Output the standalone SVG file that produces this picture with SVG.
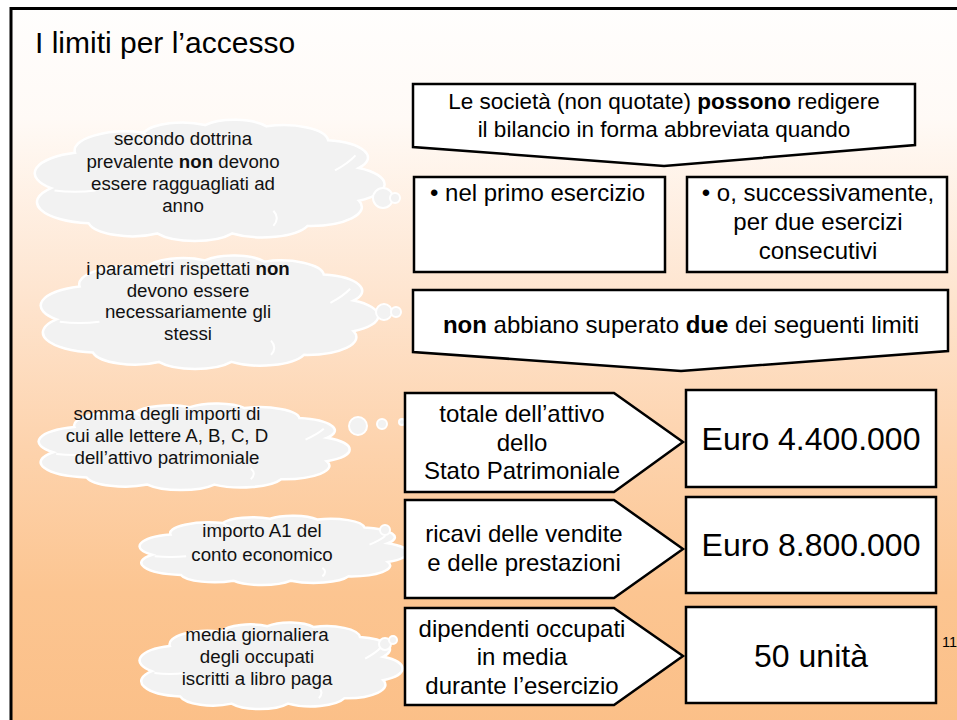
<svg xmlns="http://www.w3.org/2000/svg" width="957" height="720" viewBox="0 0 957 720">
<defs>
<linearGradient id="bg" x1="0" y1="0" x2="0" y2="1">
<stop offset="0" stop-color="#fffefd"/>
<stop offset="0.15" stop-color="#fffaf6"/>
<stop offset="0.4" stop-color="#fee4ce"/>
<stop offset="0.6" stop-color="#fdd3ad"/>
<stop offset="0.8" stop-color="#fcc591"/>
<stop offset="1" stop-color="#fbbf87"/>
</linearGradient>
</defs>
<style>
text{font-family:"Liberation Sans",Arial,sans-serif;fill:#000}
.t24{font-size:24px}
.t32{font-size:32px}
.ct{font-size:18.7px;fill:#111}
.b{font-weight:bold}
.box{fill:#fff;stroke:#000;stroke-width:2.5;stroke-linejoin:miter}
.cloud{fill:#f2f2f2;stroke:#fff;stroke-width:2.5;vector-effect:non-scaling-stroke}
.cl{fill:none;stroke:#fff;stroke-width:2;vector-effect:non-scaling-stroke}
.dot{fill:#f2f2f2;stroke:#fff;stroke-width:2}
</style>
<rect width="957" height="720" fill="#fff"/>
<rect x="11" y="8.5" width="960" height="730" fill="url(#bg)" stroke="#000" stroke-width="3"/>
<text x="35" y="53" style="font-size:30px">I limiti per l’accesso</text>

<g id="cloud1">
<g transform="translate(34,115) scale(3.42,1.26)">
<path class="cloud" d="M 5 58 A 17 17 0 0 1 12 30 A 15 15 0 0 1 32 14 A 12 12 0 0 1 50 8 A 11 11 0 0 1 68 9 A 13 13 0 0 1 86 20 A 14 14 0 0 1 95 42 A 15 15 0 0 1 95 68 A 15 15 0 0 1 80 88 A 14 14 0 0 1 58 94 A 13 13 0 0 1 36 94 A 13 13 0 0 1 16 86 A 17 17 0 0 1 5 58 Z"/>
<path class="cl" d="M 6 60 Q 12 62 18 60 M 88 44 Q 92 38 94 32 M 70 88 Q 72 82 70 76 M 32 14 Q 34 20 38 22"/>
</g>
<text class="ct" text-anchor="middle"><tspan x="183" y="145">secondo dottrina</tspan><tspan x="183" y="168">prevalente <tspan class="b">non</tspan> devono</tspan><tspan x="183" y="190">essere ragguagliati ad</tspan><tspan x="183" y="212">anno</tspan></text>
</g>

<g id="cloud2">
<g transform="translate(40,251) scale(3.3,1.18)">
<path class="cloud" d="M 5 58 A 17 17 0 0 1 12 30 A 15 15 0 0 1 32 14 A 12 12 0 0 1 50 8 A 11 11 0 0 1 68 9 A 13 13 0 0 1 86 20 A 14 14 0 0 1 95 42 A 15 15 0 0 1 95 68 A 15 15 0 0 1 80 88 A 14 14 0 0 1 58 94 A 13 13 0 0 1 36 94 A 13 13 0 0 1 16 86 A 17 17 0 0 1 5 58 Z"/>
<path class="cl" d="M 6 60 Q 12 62 18 60 M 88 44 Q 92 38 94 32 M 70 88 Q 72 82 70 76 M 32 14 Q 34 20 38 22"/>
</g>
<text class="ct" text-anchor="middle"><tspan x="188" y="275">i parametri rispettati <tspan class="b">non</tspan></tspan><tspan x="188" y="297">devono essere</tspan><tspan x="188" y="318">necessariamente gli</tspan><tspan x="188" y="340">stessi</tspan></text>
</g>

<g id="cloud3">
<g transform="translate(38,400) scale(3.04,0.9)">
<path class="cloud" d="M 5 58 A 17 17 0 0 1 12 30 A 15 15 0 0 1 32 14 A 12 12 0 0 1 50 8 A 11 11 0 0 1 68 9 A 13 13 0 0 1 86 20 A 14 14 0 0 1 95 42 A 15 15 0 0 1 95 68 A 15 15 0 0 1 80 88 A 14 14 0 0 1 58 94 A 13 13 0 0 1 36 94 A 13 13 0 0 1 16 86 A 17 17 0 0 1 5 58 Z"/>
<path class="cl" d="M 6 60 Q 12 62 18 60 M 88 44 Q 92 38 94 32 M 70 88 Q 72 82 70 76 M 32 14 Q 34 20 38 22"/>
</g>
<text class="ct" text-anchor="middle"><tspan x="167" y="420">somma degli importi di</tspan><tspan x="167" y="442">cui alle lettere A, B, C, D</tspan><tspan x="167" y="464">dell’attivo patrimoniale</tspan></text>
</g>

<g id="cloud4">
<g transform="translate(139,513) scale(2.62,0.72)">
<path class="cloud" d="M 5 58 A 17 17 0 0 1 12 30 A 15 15 0 0 1 32 14 A 12 12 0 0 1 50 8 A 11 11 0 0 1 68 9 A 13 13 0 0 1 86 20 A 14 14 0 0 1 95 42 A 15 15 0 0 1 95 68 A 15 15 0 0 1 80 88 A 14 14 0 0 1 58 94 A 13 13 0 0 1 36 94 A 13 13 0 0 1 16 86 A 17 17 0 0 1 5 58 Z"/>
<path class="cl" d="M 6 60 Q 12 62 18 60 M 88 44 Q 92 38 94 32 M 70 88 Q 72 82 70 76 M 32 14 Q 34 20 38 22"/>
</g>
<text class="ct" text-anchor="middle"><tspan x="262" y="537">importo A1 del</tspan><tspan x="262" y="561">conto economico</tspan></text>
</g>

<g id="cloud5">
<g transform="translate(139,619) scale(2.57,0.9)">
<path class="cloud" d="M 5 58 A 17 17 0 0 1 12 30 A 15 15 0 0 1 32 14 A 12 12 0 0 1 50 8 A 11 11 0 0 1 68 9 A 13 13 0 0 1 86 20 A 14 14 0 0 1 95 42 A 15 15 0 0 1 95 68 A 15 15 0 0 1 80 88 A 14 14 0 0 1 58 94 A 13 13 0 0 1 36 94 A 13 13 0 0 1 16 86 A 17 17 0 0 1 5 58 Z"/>
<path class="cl" d="M 6 60 Q 12 62 18 60 M 88 44 Q 92 38 94 32 M 70 88 Q 72 82 70 76 M 32 14 Q 34 20 38 22"/>
</g>
<text class="ct" text-anchor="middle"><tspan x="257" y="641">media giornaliera</tspan><tspan x="257" y="663">degli occupati</tspan><tspan x="257" y="685">iscritti a libro paga</tspan></text>
</g>

<g id="connectors">
<circle class="dot" cx="383" cy="198" r="10"/>
<circle class="dot" cx="395" cy="198" r="5"/>
<circle class="dot" cx="384" cy="312" r="8"/>
<circle class="dot" cx="396" cy="312" r="5"/>
<circle class="dot" cx="358" cy="426" r="9"/>
<circle class="dot" cx="382" cy="424" r="5"/>
<circle class="dot" cx="402" cy="422" r="3"/>
<circle class="dot" cx="385" cy="530" r="5"/>
<circle class="dot" cx="385" cy="644" r="6"/>
<circle class="dot" cx="393" cy="640" r="4"/>
</g>

<g id="head">
<path class="box" d="M 413 84 L 915 84 L 915 145 L 664 166 L 413 147 Z"/>
<text text-anchor="middle" style="font-size:22.5px"><tspan x="664" y="109">Le società (non quotate) <tspan class="b">possono</tspan> redigere</tspan><tspan x="664" y="137">il bilancio in forma abbreviata quando</tspan></text>
</g>

<g id="first">
<rect class="box" x="414" y="177" width="251" height="95"/>
<text class="t24" x="430" y="201">• nel primo esercizio</text>
</g>

<g id="later">
<rect class="box" x="687" y="177" width="260" height="95"/>
<text class="t24" text-anchor="middle"><tspan x="818" y="201">• o, successivamente,</tspan><tspan x="818" y="230">per due esercizi</tspan><tspan x="818" y="259">consecutivi</tspan></text>
</g>

<g id="limits">
<path class="box" d="M 413 290 L 948 290 L 948 351 L 681 371 L 413 352 Z"/>
<text class="t24" x="681" y="333" text-anchor="middle"><tspan class="b">non</tspan> abbiano superato <tspan class="b">due</tspan> dei seguenti limiti</text>
</g>

<g id="attivo">
<path class="box" d="M 405 393 L 614 393 L 683 442 L 614 492 L 405 492 Z"/>
<text class="t24" text-anchor="middle"><tspan x="522" y="422">totale dell’attivo</tspan><tspan x="522" y="451">dello</tspan><tspan x="522" y="479">Stato Patrimoniale</tspan></text>
</g>
<g id="attivo-val">
<rect class="box" x="686" y="390" width="250" height="97"/>
<text class="t32" x="811" y="450" text-anchor="middle">Euro 4.400.000</text>
</g>

<g id="ricavi">
<path class="box" d="M 405 500 L 614 500 L 683 549 L 614 598 L 405 598 Z"/>
<text class="t24" text-anchor="middle"><tspan x="524" y="542">ricavi delle vendite</tspan><tspan x="524" y="571">e delle prestazioni</tspan></text>
</g>
<g id="ricavi-val">
<rect class="box" x="686" y="497" width="250" height="96"/>
<text class="t32" x="811" y="556" text-anchor="middle">Euro 8.800.000</text>
</g>

<g id="dipendenti">
<path class="box" d="M 405 608 L 614 608 L 683 656 L 614 705 L 405 705 Z"/>
<text class="t24" text-anchor="middle"><tspan x="522" y="637">dipendenti occupati</tspan><tspan x="522" y="665">in media</tspan><tspan x="522" y="694">durante l’esercizio</tspan></text>
</g>
<g id="dipendenti-val">
<rect class="box" x="686" y="607" width="250" height="96"/>
<text class="t32" x="811" y="667" text-anchor="middle">50 unità</text>
</g>

<text x="942" y="647" style="font-size:14.5px">11</text>
</svg>
